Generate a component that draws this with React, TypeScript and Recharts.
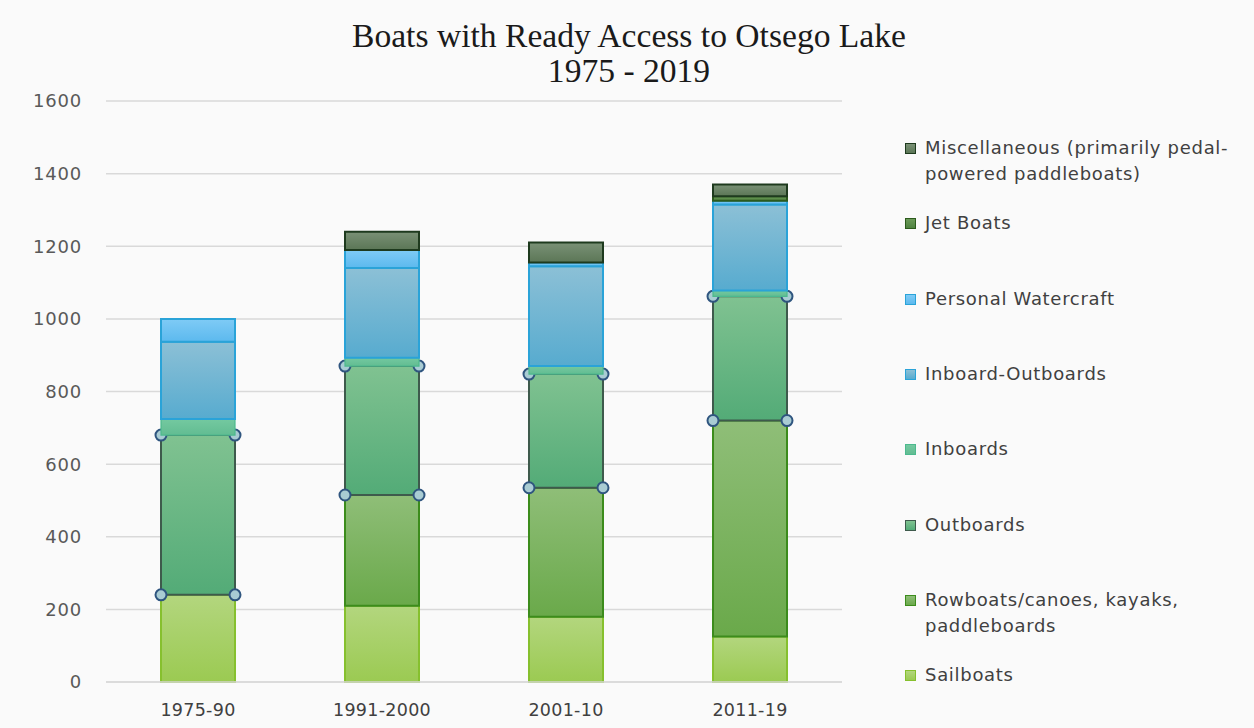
import React from 'react';
import { BarChart, Bar, XAxis, YAxis, CartesianGrid, Rectangle } from 'recharts';

const categories = ['1975-90', '1991-2000', '2001-10', '2011-19'];
const sailboats = [240, 210, 180, 125];
const rowboats = [0, 305, 355, 595];
const outboards = [440, 355, 313, 342];
const inboards = [44, 23, 22, 16];
const inboardOutboards = [213, 247, 275, 237];
const personalWatercraft = [63, 50, 10, 10];
const jetBoats = [0, 0, 0, 13];
const miscellaneous = [0, 50, 55, 32];
const yTicks = [0, 200, 400, 600, 800, 1000, 1200, 1400, 1600];

const data = categories.map((period, i) => ({
  period,
  sailboats: sailboats[i],
  rowboats: rowboats[i],
  outboards: outboards[i],
  inboards: inboards[i],
  inboardOutboards: inboardOutboards[i],
  personalWatercraft: personalWatercraft[i],
  jetBoats: jetBoats[i],
  miscellaneous: miscellaneous[i],
}));

// bottom to top
const series = [
  { key: 'sailboats', name: ['Sailboats'], top: '#b3d67e', bottom: '#9bca52', stroke: '#86c02e' },
  { key: 'rowboats', name: ['Rowboats/canoes, kayaks,', 'paddleboards'], top: '#8fbe78', bottom: '#6aa94a', stroke: '#3c8c1c' },
  { key: 'outboards', name: ['Outboards'], top: '#80c291', bottom: '#53ab77', stroke: '#3e5a4c' },
  { key: 'inboards', name: ['Inboards'], top: '#74c9a0', bottom: '#62bc92', stroke: '#4cb98e' },
  { key: 'inboardOutboards', name: ['Inboard-Outboards'], top: '#8cc0d6', bottom: '#57abcf', stroke: '#2aa3d8' },
  { key: 'personalWatercraft', name: ['Personal Watercraft'], top: '#7fcbf6', bottom: '#5cb9ee', stroke: '#2aa3d8' },
  { key: 'jetBoats', name: ['Jet Boats'], top: '#6b9a58', bottom: '#4f8240', stroke: '#2c5a1c' },
  { key: 'miscellaneous', name: ['Miscellaneous (primarily pedal-', 'powered paddleboats)'], top: '#7a9176', bottom: '#5b7656', stroke: '#1e3a1e' },
];

const sans = '"DejaVu Sans", sans-serif';

const HandleBar = (props: any) => {
  const { x, y, width, height } = props;
  if (!height) return null;
  const pts = [
    [x, y],
    [x + width, y],
    [x, y + height],
    [x + width, y + height],
  ];
  return (
    <g>
      <Rectangle {...props} />
      {pts.map(([cx, cy], i) => (
        <circle key={i} cx={cx} cy={cy} r={5.5} fill="#a9ccd3" stroke="#2f557f" strokeWidth={2} />
      ))}
    </g>
  );
};

const BoatLegend = () => {
  const items = [...series].reverse();
  return (
    <div
      style={{
        position: 'absolute',
        left: 900,
        top: 135,
        width: 354,
        height: 560,
        fontFamily: sans,
        fontSize: 18,
        letterSpacing: 0.7,
        color: '#404040',
      }}
    >
      {items.map((s, i) => (
        <div key={s.key} style={{ position: 'absolute', left: 0, top: i * 75.3, lineHeight: '26px' }}>
          <span
            style={{
              position: 'absolute',
              left: 5,
              top: 8,
              width: 9,
              height: 9,
              background: `linear-gradient(${s.top}, ${s.bottom})`,
              border: `1.5px solid ${s.stroke}`,
            }}
          />
          <div style={{ marginLeft: 25, whiteSpace: 'nowrap' }}>
            {s.name.map((line) => (
              <div key={line}>{line}</div>
            ))}
          </div>
        </div>
      ))}
    </div>
  );
};

export default function App() {
  return (
    <div style={{ position: 'absolute', left: 0, top: 0, width: 1254, height: 728, background: '#fafafa' }}>
      <div
        style={{
          position: 'absolute',
          left: 0,
          width: 1258,
          top: 18,
          textAlign: 'center',
          fontFamily: '"Liberation Serif", serif',
          fontSize: 33.6,
          lineHeight: '35px',
          color: '#1a1a1a',
        }}
      >
        <div>Boats with Ready Access to Otsego Lake</div>
        <div>1975 - 2019</div>
      </div>
      <BarChart
        width={1254}
        height={728}
        data={data}
        margin={{ top: 101, right: 412, bottom: 16, left: 0 }}
        barSize={74}
        style={{ position: 'absolute', left: 0, top: 0 }}
      >
        <defs>
          {series.map((s) => (
            <linearGradient key={s.key} id={`grad-${s.key}`} x1="0" y1="0" x2="0" y2="1">
              <stop offset="0%" stopColor={s.top} />
              <stop offset="100%" stopColor={s.bottom} />
            </linearGradient>
          ))}
        </defs>
        <CartesianGrid vertical={false} stroke="#d9d9d9" strokeWidth={1.5} />
        <XAxis
          dataKey="period"
          height={30}
          tickLine={false}
          tickSize={0}
          tickMargin={22}
          axisLine={{ stroke: '#d9d9d9', strokeWidth: 1.5 }}
          tick={{ fill: '#404040', fontSize: 17.5, fontFamily: sans, letterSpacing: 0.3 }}
        />
        <YAxis
          width={106}
          domain={[0, 1600]}
          ticks={yTicks}
          axisLine={false}
          tickLine={false}
          tickSize={0}
          tickMargin={24}
          tick={{ fill: '#595959', fontSize: 18, fontFamily: sans, letterSpacing: 0.8 }}
        />
        {series.map((s) => (
          <Bar
            key={s.key}
            dataKey={s.key}
            name={s.name.join(' ')}
            stackId="boats"
            fill={`url(#grad-${s.key})`}
            stroke={s.stroke}
            strokeWidth={s.key === 'inboards' ? 1.2 : 2}
            isAnimationActive={false}
            shape={s.key === 'outboards' ? <HandleBar /> : undefined}
          />
        ))}
      </BarChart>
      <BoatLegend />
    </div>
  );
}
